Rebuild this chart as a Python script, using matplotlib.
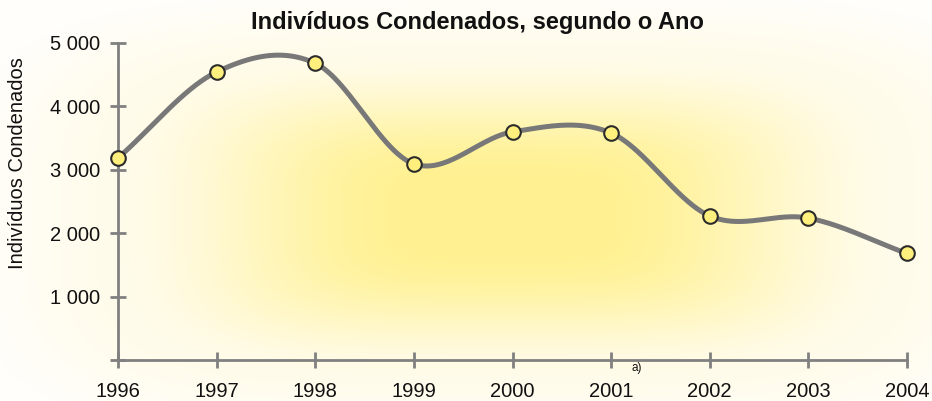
import numpy as np
import matplotlib
matplotlib.use("Agg")
import matplotlib.pyplot as plt
from matplotlib.ticker import FixedLocator, FixedFormatter

plt.rcParams['font.family'] = ['Liberation Sans', 'DejaVu Sans']

# Data
anos = [1996, 1997, 1998, 1999, 2000, 2001, 2002, 2003, 2004]
condenados = [3186, 4543, 4680, 3093, 3598, 3580, 2272, 2238, 1680]
y_ticks = [0, 1000, 2000, 3000, 4000, 5000]
y_tick_labels = ["", "1 000", "2 000", "3 000", "4 000", "5 000"]
titulo = "Indivíduos Condenados, segundo o Ano"
eixo_y = "Indivíduos Condenados"
nota = "a)"


def catmull_rom(x, y, per_seg=60):
    """Cubic Hermite curve through (x, y) with Catmull-Rom tangents."""
    x = np.asarray(x, float)
    y = np.asarray(y, float)
    k = len(x)
    m = np.zeros(k)
    m[1:-1] = (y[2:] - y[:-2]) / (x[2:] - x[:-2])
    m[0] = (y[1] - y[0]) / (x[1] - x[0])
    m[-1] = (y[-1] - y[-2]) / (x[-1] - x[-2])
    xs_all, ys_all = [], []
    for i in range(k - 1):
        h = x[i + 1] - x[i]
        t = np.linspace(0, 1, per_seg, endpoint=(i == k - 2))
        h00 = 2 * t**3 - 3 * t**2 + 1
        h10 = t**3 - 2 * t**2 + t
        h01 = -2 * t**3 + 3 * t**2
        h11 = t**3 - t**2
        xs_all.append(x[i] + t * h)
        ys_all.append(h00 * y[i] + h10 * h * m[i] + h01 * y[i + 1] + h11 * h * m[i + 1])
    return np.concatenate(xs_all), np.concatenate(ys_all)


W, H, DPI = 932, 401, 100
fig = plt.figure(figsize=(W / DPI, H / DPI), dpi=DPI)

# Soft yellow glow behind the plot
bg = fig.add_axes([0, 0, 1, 1], zorder=0)
gx, gy = np.meshgrid(np.arange(W), np.arange(H))
u = (gx - 505) / 410.0
v = (gy - 215) / 170.0
p = 4.0
dist = (np.abs(u) ** p + np.abs(v) ** p) ** (1 / p)
t = np.clip((dist - 0.2) / 0.8, 0, 1)
t = t * t * (3 - 2 * t)
center = np.array([255, 241, 145]) / 255.0
edge = np.array([255, 252, 236]) / 255.0
white = np.array([255, 254, 250]) / 255.0
img = center[None, None, :] * (1 - t[..., None]) + edge[None, None, :] * t[..., None]
t2 = np.clip((dist - 1) / 0.3, 0, 1)[..., None]
img = img * (1 - t2) + white[None, None, :] * t2
bg.imshow(img, aspect="auto", interpolation="bilinear")
bg.set_axis_off()

left, right = 118 / W, 907 / W
bottom, top = (H - 360) / H, (H - 43) / H
ax = fig.add_axes([left, bottom, right - left, top - bottom], zorder=1)
ax.patch.set_alpha(0)

xs, ys = catmull_rom(anos, condenados)
ax.plot(xs, ys, color="#787878", lw=3.6, solid_capstyle="round", clip_on=False, zorder=2)
ax.plot(anos, condenados, linestyle="none", marker="o", markersize=10.5,
        markerfacecolor="#FFF07E", markeredgecolor="#2b2b2b", markeredgewidth=1.5,
        clip_on=False, zorder=3)

ax.set_xlim(1996, 2004)
ax.set_ylim(0, 5000)
ax.xaxis.set_major_locator(FixedLocator(anos))
ax.set_xticklabels([str(a) for a in anos])
ax.yaxis.set_major_locator(FixedLocator(y_ticks))
ax.yaxis.set_major_formatter(FixedFormatter(y_tick_labels))

for s in ["top", "right"]:
    ax.spines[s].set_visible(False)
for s in ["left", "bottom"]:
    ax.spines[s].set_color("#808080")
    ax.spines[s].set_linewidth(2.0)

ax.tick_params(axis="both", direction="inout", length=11.5, width=2.0,
               color="#808080", labelsize=14.5, labelcolor="#111111")
ax.tick_params(axis="y", pad=7)
ax.tick_params(axis="x", pad=10)

fig.text(477 / W, 1 - 22 / H, titulo, ha="center", va="center",
         fontsize=17, fontweight="bold", color="#111111")
fig.text(18 / W, 1 - 163 / H, eixo_y, ha="center", va="center",
         rotation=90, fontsize=14.5, color="#111111")
fig.text(637 / W, 1 - 368 / H, nota, ha="center", va="center",
         fontsize=8.5, color="#111111")

fig.savefig("out.png", dpi=DPI)
